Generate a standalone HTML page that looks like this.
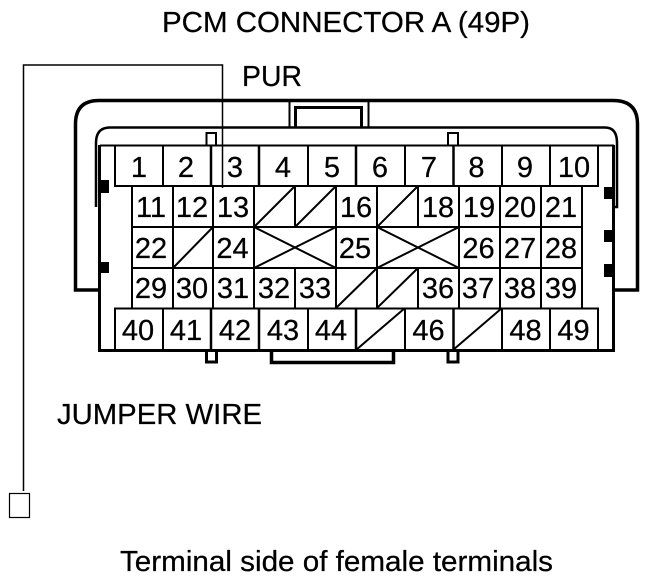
<!DOCTYPE html>
<html><head><meta charset="utf-8"><style>
html,body{margin:0;padding:0;background:#fff}
svg{display:block}
text{font-family:"Liberation Sans",Arial,sans-serif;fill:#000;stroke:#000;stroke-width:.25px}
.n{font-size:29px;text-anchor:middle}
.t{font-size:29px}
.l{stroke:#000;fill:none}
</style></head><body>
<svg width="672" height="580" viewBox="0 0 672 580" xmlns="http://www.w3.org/2000/svg">
<rect width="672" height="580" fill="#fff"/>
<text class="t" x="162" y="32" textLength="368" lengthAdjust="spacingAndGlyphs">PCM CONNECTOR A (49P)</text>
<text class="t" x="242" y="86" textLength="60" lengthAdjust="spacingAndGlyphs">PUR</text>
<text class="t" x="57" y="424" textLength="205" lengthAdjust="spacingAndGlyphs">JUMPER WIRE</text>
<text class="t" x="120" y="571" textLength="433" lengthAdjust="spacingAndGlyphs">Terminal side of female terminals</text>

<g class="l">
<path d="M99 290H75.500V124Q75.500 100.500 99 100.500H613Q637.500 100.500 637.500 124V290H614" stroke-width="3.500"/>
<path d="M96 207V143Q96 127.500 110 127.500H605Q617 127.500 617 143V207H614" stroke-width="2.500"/>
<path d="M289.500 100V127M368.500 100V127" stroke-width="2"/>
<path d="M295.500 127V107.500H361.500V127" stroke-width="3"/>
<path d="M206.500 145V133H216V145M448 145V133H458V145" stroke-width="2"/>
<path d="M100 145.500H614" stroke-width="2"/>
<path d="M99.500 145V350.500H613.500V145" stroke-width="3"/>
<path d="M206.500 350V362H216.500V350M448 350V362H458V350" stroke-width="3"/>
<path d="M271.500 350V362.500H393.500V350" stroke-width="3.500"/>
</g>
<g fill="#000">
<rect x="99" y="180" width="10" height="13"/><rect x="99" y="262" width="10" height="11"/>
<rect x="604" y="187" width="10" height="12"/><rect x="604" y="230" width="10" height="12"/><rect x="604" y="264" width="10" height="13"/>
</g>

<g class="l" stroke-width="2">
<path d="M115 145V186H598V145"/>
<path d="M115 350V308.500H598V350"/>
<path d="M163 145V186M308 145V186M405 145V186M502 145V186M550 145V186M163 308V350M308 308V350M405 308V350M502 308V350M550 308V350"/>
<path d="M211 145V186M259 145V186M356 145V186M453.500 145V186M211 308V350M259 308V350M356 308V350M453.500 308V350" stroke-width="2.500"/>
<path d="M132 186V308M582 186V308M132 227H582M132 268H582"/>
<path d="M173 186V308M213 186V308M254 186V308M336 186V308M377 186V308M459 186V308M500 186V308M541 186V308"/>
<path d="M295 186V227M295 268V308M418 186V227M418 268V308"/>
<path d="M254 227L295 186M295 227L336 186M377 227L418 186M173 268L213 227M254 227L336 268M254 268L336 227M377 227L459 268M377 268L459 227M336 308L377 268M377 308L418 268M356 350L405 308M453 350L502 308"/>
</g>

<g class="n">
<text x="139" y="177">1</text><text x="186" y="177">2</text><text x="235" y="177">3</text><text x="283" y="177">4</text><text x="332" y="177">5</text><text x="380" y="177">6</text><text x="429" y="177">7</text><text x="476.500" y="177">8</text><text x="525" y="177">9</text><text x="574" y="177">10</text>
<text x="151" y="217">11</text><text x="192" y="217">12</text><text x="233" y="217">13</text><text x="356" y="217">16</text><text x="438" y="217">18</text><text x="479" y="217">19</text><text x="520" y="217">20</text><text x="561" y="217">21</text>
<text x="151" y="258">22</text><text x="232.500" y="258">24</text><text x="355" y="258">25</text><text x="478.500" y="258">26</text><text x="520" y="258">27</text><text x="561" y="258">28</text>
<text x="151" y="298">29</text><text x="192" y="298">30</text><text x="233" y="298">31</text><text x="274" y="298">32</text><text x="315" y="298">33</text><text x="438" y="298">36</text><text x="478" y="298">37</text><text x="520" y="298">38</text><text x="561" y="298">39</text>
<text x="138" y="340">40</text><text x="186" y="340">41</text><text x="235" y="340">42</text><text x="283" y="340">43</text><text x="331" y="340">44</text><text x="428.500" y="340">46</text><text x="525.500" y="340">48</text><text x="573.500" y="340">49</text>
</g>

<g class="l">
<path d="M23.500 491V65H222.500V188" stroke-width="1.500"/>
<rect x="9.500" y="493.500" width="20" height="24" stroke-width="1.200"/>
</g>
</svg>
</body></html>
